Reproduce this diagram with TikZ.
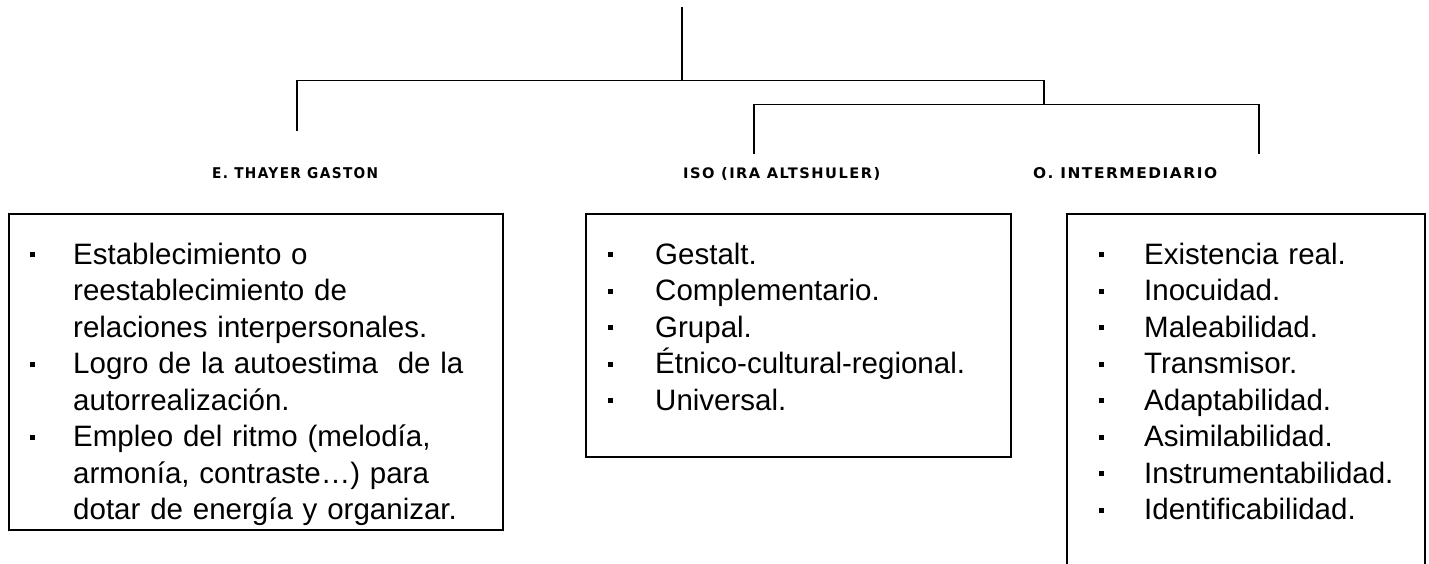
\documentclass[tikz,border=0pt]{standalone}
\usepackage{fontspec}
\setmainfont{Liberation Sans}
\newfontfamily\headfont[LetterSpace=10]{DejaVu Sans}
\usepackage{graphicx}
% #1 = gap between bullet start and text, #2 = item text
\newcommand\itm[2]{\par\hangindent=#1\hangafter=1\noindent\rule{0pt}{26pt}\makebox[#1][l]{\rule[7pt]{4.5pt}{5pt}}#2\par}
\tikzset{
  tree/.style={line width=1.6pt, line cap=rect},
  boxframe/.style={draw, line width=1.6pt, inner sep=0pt, anchor=north west},
  body/.style={inner sep=0pt, anchor=north west, text width=560pt,
    font=\fontsize{29.5}{36.5}\selectfont},
  head/.style={inner sep=0pt, anchor=base west}
}
\begin{document}
\begin{tikzpicture}[x=1pt,y=-1pt]
\clip (0,0) rectangle (1429,563);
% tree connectors
\coordinate (root) at (682,8);
\coordinate (j1) at (682,80.5);
\coordinate (l1) at (297,80.5);
\coordinate (r1) at (1044,80.5);
\coordinate (ld) at (297,130);
\coordinate (j2) at (1044,104.5);
\coordinate (l2) at (754,104.5);
\coordinate (r2) at (1259,104.5);
\coordinate (md) at (754,153);
\coordinate (rd) at (1259,153);
\draw[tree] (root) -- (j1);
\draw[tree] (ld) -- (l1) -- (r1) -- (j2);
\draw[tree] (md) -- (l2) -- (r2) -- (rd);
% headings
\node[head] (h1) at (212,178) {\resizebox{166pt}{11pt}{\headfont\bfseries E. THAYER GASTON}};
\node[head] (h2) at (683,178) {\resizebox{197pt}{11pt}{\headfont\bfseries ISO (IRA ALTSHULER)}};
\node[head] (h3) at (1033,178) {\resizebox{184pt}{11pt}{\headfont\bfseries O. INTERMEDIARIO}};
% boxes
\node[boxframe, minimum width=494pt, minimum height=316pt] (b1) at (8,213) {};
\node[boxframe, minimum width=425pt, minimum height=243pt] (b2) at (585,213) {};
\node[boxframe, minimum width=358pt, minimum height=420pt] (b3) at (1066,213) {};
% box texts
\node[body] (t1) at (30,227.5) {%
\itm{43pt}{Establecimiento o\newline reestablecimiento de\newline relaciones interpersonales.}
\itm{43pt}{Logro de la autoestima\ \ de la\newline autorrealización.}
\itm{43pt}{Empleo del ritmo (melodía,\newline armonía, contraste…) para\newline dotar de energía y organizar.}};
\node[body] (t2) at (608,227.5) {%
\itm{47pt}{Gestalt.}
\itm{47pt}{Complementario.}
\itm{47pt}{Grupal.}
\itm{47pt}{Étnico-cultural-regional.}
\itm{47pt}{Universal.}};
\node[body] (t3) at (1099,227.5) {%
\itm{45pt}{Existencia real.}
\itm{45pt}{Inocuidad.}
\itm{45pt}{Maleabilidad.}
\itm{45pt}{Transmisor.}
\itm{45pt}{Adaptabilidad.}
\itm{45pt}{Asimilabilidad.}
\itm{45pt}{Instrumentabilidad.}
\itm{45pt}{Identificabilidad.}};
\end{tikzpicture}
\end{document}
